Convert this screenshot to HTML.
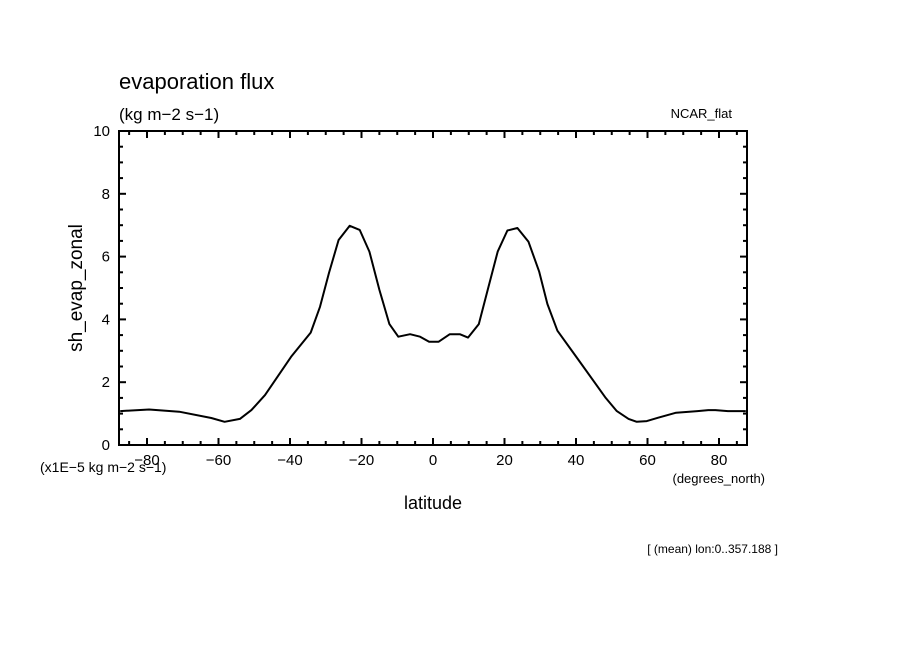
<!DOCTYPE html>
<html><head><meta charset="utf-8"><style>
body{margin:0;background:#fff;}
svg{display:block;font-family:"Liberation Sans",sans-serif;}
</style></head><body>
<svg id="c" width="904" height="654" viewBox="0 0 904 654">
<rect width="904" height="654" fill="#fff"/>
<text x="119" y="89" font-size="22">evaporation flux</text>
<text x="119" y="120" font-size="17">(kg m−2 s−1)</text>
<text x="732" y="118" font-size="13" text-anchor="end">NCAR_flat</text>
<text x="433" y="509" font-size="18" text-anchor="middle">latitude</text>
<text x="82" y="288" font-size="19" text-anchor="middle" transform="rotate(-90 82 288)">sh_evap_zonal</text>
<text x="40" y="472" font-size="14">(x1E−5 kg m−2 s−1)</text>
<text x="765" y="483" font-size="13" text-anchor="end">(degrees_north)</text>
<text x="778" y="553" font-size="12" text-anchor="end">[ (mean) lon:0..357.188 ]</text>
<g id="axes"></g>
<path id="line" fill="none" stroke="#000" stroke-width="2" stroke-linejoin="round"/>
<rect x="119" y="131" width="628" height="314" fill="none" stroke="#000" stroke-width="2"/>
</svg>
<script>
const lats=[-87.5,-79.4,-71,-62,-58.3,-54,-50.8,-47,-39.7,-34.2,-31.6,-29.1,-26.4,-23.3,-20.5,-17.8,-15,-12.2,-9.7,-6.4,-3.6,-1.1,1.6,4.7,7.5,9.8,12.8,15.3,18.1,20.8,23.6,26.7,29.7,32,34.8,40.3,48.3,51.4,54.7,57,59.8,63,68,74,77,79,82.5,87.5];
const vals=[1.08,1.13,1.06,0.86,0.74,0.83,1.11,1.59,2.81,3.58,4.40,5.48,6.53,6.98,6.85,6.16,4.94,3.85,3.45,3.53,3.45,3.29,3.29,3.53,3.53,3.42,3.85,4.94,6.16,6.83,6.91,6.47,5.52,4.49,3.64,2.77,1.50,1.08,0.83,0.74,0.76,0.87,1.03,1.08,1.11,1.11,1.08,1.08];
const xTicks=[-80,-60,-40,-20,0,20,40,60,80];
const yTicks=[0,2,4,6,8,10];
const X0=119,X1=747,Y0=445,Y1=131;
const x=l=>433+3.575*l;
const y=v=>Y0-(v/10)*(Y0-Y1);
const NS='http://www.w3.org/2000/svg';
const g=document.getElementById('axes');
function ln(x1,y1,x2,y2,n){const e=document.createElementNS(NS,'line');e.setAttribute('x1',x1);e.setAttribute('y1',y1);e.setAttribute('x2',x2);e.setAttribute('y2',y2);e.setAttribute('stroke','#000');e.setAttribute('stroke-width','2');


g.appendChild(e);}
function tx(xx,yy,s,a,n){const e=document.createElementNS(NS,'text');e.setAttribute('x',xx);e.setAttribute('y',yy);e.setAttribute('font-size','15');e.setAttribute('text-anchor',a);e.textContent=s;


g.appendChild(e);}
for(let l=-85;l<=85;l+=5){const px=x(l);const len=(l%20===0)?7:4;ln(px,Y0,px,Y0-len,'x-tick');ln(px,Y1,px,Y1+len,'x-tick-top');}
xTicks.forEach(t=>tx(x(t),465,String(t).replace('-','−'),'middle','x-tick-label'));
for(let v=0;v<=10;v+=0.5){const py=y(v);const len=(v%2===0)?7:4;ln(X0,py,X0+len,py,'y-tick');ln(X1,py,X1-len,py,'y-tick-right');}
yTicks.forEach(t=>tx(110,y(t)+5,String(t),'end','y-tick-label'));
document.getElementById('line').setAttribute('d',lats.map((l,i)=>(i?'L':'M')+x(l).toFixed(1)+' '+y(vals[i]).toFixed(1)).join(' '));
</script>
</body></html>
